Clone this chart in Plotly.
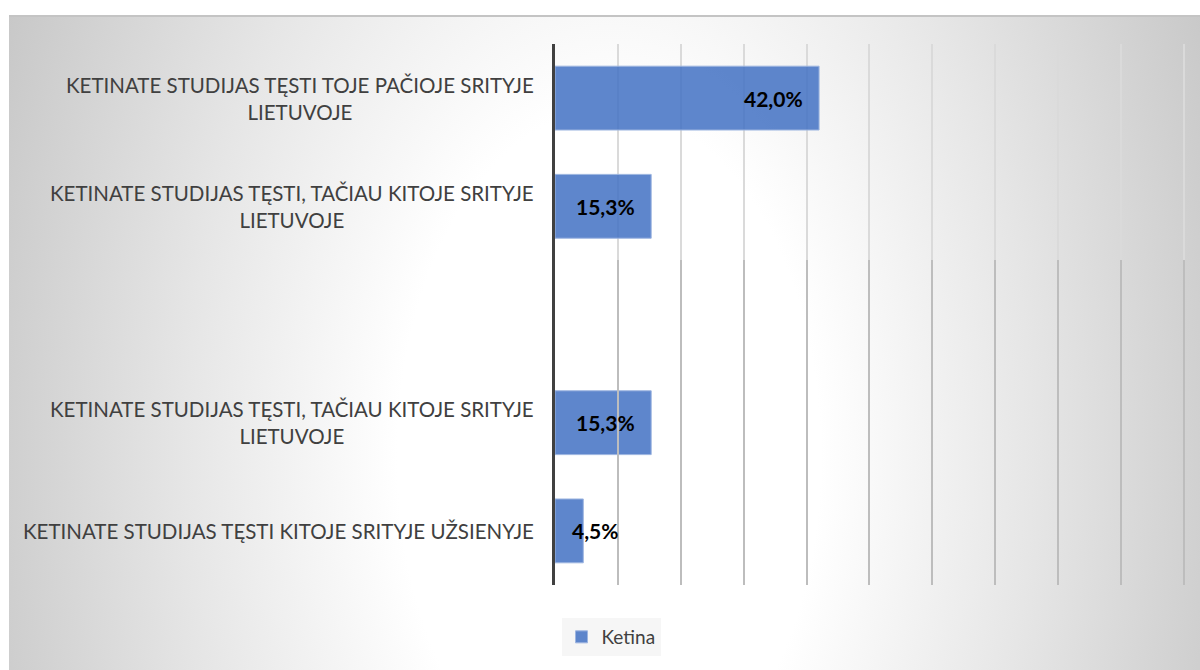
import base64
import plotly.graph_objects as go

# ---- data ----
categories = [
    "KETINATE STUDIJAS TĘSTI TOJE PAČIOJE SRITYJE<br>LIETUVOJE",
    "KETINATE STUDIJAS TĘSTI, TAČIAU KITOJE SRITYJE<br>LIETUVOJE",
    "",
    "KETINATE STUDIJAS TĘSTI, TAČIAU KITOJE SRITYJE<br>LIETUVOJE",
    "KETINATE STUDIJAS TĘSTI KITOJE SRITYJE UŽSIENYJE",
]
values = [42.0, 15.3, None, 15.3, 4.5]
series_name = "Ketina"

W, H = 1200, 670
ML, MR, MT, MB = 555, 15, 44, 85
pw, ph = W - ML - MR, H - MT - MB

positions = list(range(len(categories)))

fig = go.Figure()

# dummy traces so the gridline subplots render
fig.add_trace(go.Scatter(x=[None], y=[None], xaxis="x", yaxis="y", showlegend=False, hoverinfo="skip"))
fig.add_trace(go.Scatter(x=[None], y=[None], xaxis="x2", yaxis="y2", showlegend=False, hoverinfo="skip"))
fig.add_trace(go.Scatter(x=[None], y=[None], xaxis="x4", yaxis="y4", showlegend=False, hoverinfo="skip"))

fig.add_trace(go.Bar(
    x=values, y=positions, orientation="h", name=series_name,
    xaxis="x3", yaxis="y3",
    marker=dict(color="rgba(68,114,196,0.86)", line=dict(color="#9DB5E0", width=1)),
    width=0.59, showlegend=True, hoverinfo="x",
))

# background gradient
svg = (
    "<svg xmlns='http://www.w3.org/2000/svg' width='1191' height='654' viewBox='0 0 1191 654' preserveAspectRatio='none'>"
    "<defs><radialGradient id='g' gradientUnits='userSpaceOnUse' cx='0' cy='0' r='1' "
    "gradientTransform='translate(600 440) scale(705 1150)'>"
    "<stop offset='0' stop-color='#ffffff'/><stop offset='0.3' stop-color='#ffffff'/>"
    "<stop offset='0.6' stop-color='#e6e6e6'/><stop offset='1' stop-color='#c2c2c2'/>"
    "</radialGradient></defs>"
    "<rect width='1191' height='654' fill='url(#g)'/>"
    "<line x1='0' y1='1' x2='1191' y2='1' stroke='#c4c4c4' stroke-width='2'/>"
    "</svg>"
)
src = "data:image/svg+xml;base64," + base64.b64encode(svg.encode()).decode()
bx0, by0, bx1, by1 = 9, 15, 1200, 670
fig.add_layout_image(dict(
    source=src, xref="paper", yref="paper",
    x=(bx0 - ML) / pw, y=(H - MB - by0) / ph,
    sizex=(bx1 - bx0) / pw, sizey=(by1 - by0) / ph,
    xanchor="left", yanchor="top", sizing="stretch", layer="below",
))

font_family = "Lato, 'Open Sans', sans-serif"

# category labels
for p, c in zip(positions, categories):
    if c:
        fig.add_annotation(
            text=c, x=0, xref="paper", y=p, yref="y3", xanchor="right", yanchor="middle",
            xshift=-19, align="center", showarrow=False,
            font=dict(family=font_family, size=20.5, color="#404040"),
        )

# data labels
for p, v in zip(positions, values):
    if v is None:
        continue
    lab = f"{v:.1f}%".replace(".", ",")
    if v >= 8:
        fig.add_annotation(text=lab, x=v, xref="x3", y=p, yref="y3", xanchor="right",
                           xshift=-14, showarrow=False,
                           font=dict(family=font_family, size=21, color="#000000", weight="bold"))
    else:
        fig.add_annotation(text=lab, x=0, xref="x3", y=p, yref="y3", xanchor="left",
                           xshift=15, showarrow=False,
                           font=dict(family=font_family, size=21, color="#000000", weight="bold"))

xmax = 100.2
xcommon = dict(range=[0, xmax], dtick=10, tick0=0, showticklabels=False, zeroline=False,
               showline=False, ticks="", fixedrange=True)
ycommon = dict(range=[len(categories) - 0.5, -0.5], showticklabels=False, showgrid=False,
               zeroline=False, ticks="", fixedrange=True)

fig.update_layout(
    width=W, height=H,
    margin=dict(l=ML, r=MR, t=MT, b=MB),
    paper_bgcolor="#ffffff", plot_bgcolor="rgba(0,0,0,0)",
    font=dict(family=font_family, color="#404040"),
    xaxis=dict(**xcommon, anchor="y", showgrid=True, gridcolor="#dadada", gridwidth=1.5),
    yaxis=dict(**ycommon, domain=[0, 1], anchor="x"),
    xaxis4=dict(**xcommon, anchor="y4", showgrid=True, gridcolor="#bdbdbd", gridwidth=1.5),
    yaxis4=dict(**ycommon, domain=[0.0, 0.6], anchor="x4"),
    xaxis2=dict(**xcommon, anchor="y2", showgrid=True, gridcolor="#9c9c9c", gridwidth=1.5),
    yaxis2=dict(**ycommon, domain=[0.0, 0.5], anchor="x2"),
    xaxis3=dict(**xcommon, anchor="y3", showgrid=False),
    yaxis3=dict(**ycommon, domain=[0, 1], anchor="x3", showline=True, linecolor="#404040", linewidth=3),
    showlegend=True,
    legend=dict(
        x=(611 - ML) / pw, y=(H - MB - 637) / ph, xanchor="center", yanchor="middle",
        bgcolor="rgba(242,242,242,0.7)", borderwidth=0,
        font=dict(family=font_family, size=19, color="#404040"),
        itemwidth=30,
    ),
    bargap=0.41,
)

fig.write_html(
    "out.html",
    config={"displayModeBar": False},
    post_script="document.body.style.margin='0';document.body.style.overflow='hidden';",
)
